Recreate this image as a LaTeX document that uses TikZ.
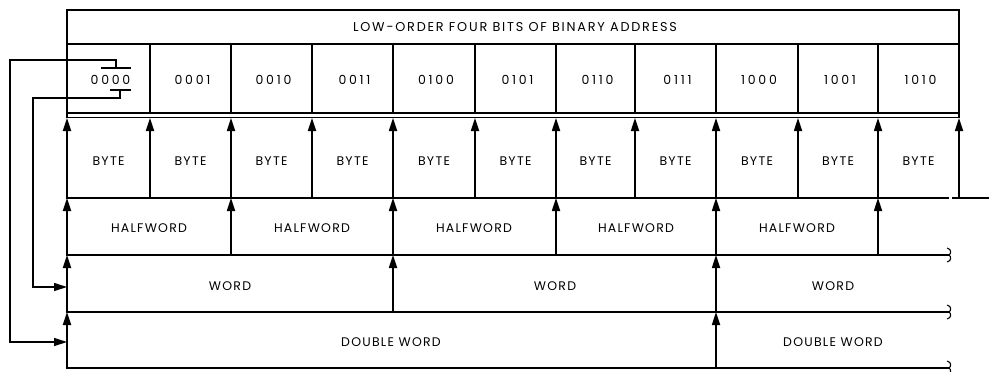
\documentclass[tikz,border=0pt]{standalone}
\usepackage{fontspec}
\setmainfont{Poppins}
\usetikzlibrary{arrows.meta}
\begin{document}
\begin{tikzpicture}[x=1pt,y=-1pt,
  frame/.style={line width=1.7pt,line cap=rect},
  thin/.style={line width=1.3pt},
  arr/.style={line width=1.7pt,-{Triangle[length=13pt,width=8pt]}},
  lbl/.style={font=\fontsize{12.5}{14}\selectfont\addfontfeatures{LetterSpace=10}, inner sep=0pt},
  dig/.style={font=\fontsize{12.5}{14}\selectfont\addfontfeatures{LetterSpace=22}, inner sep=0pt},
  squig/.style={line width=1.1pt}]
\useasboundingbox (0,0) rectangle (989,372);
% title box
\draw[frame] (67,117) -- (67,10) -- (959,10) -- (959,117);
\draw[frame] (67,44) -- (959,44);
\draw[line width=1.4pt] (67,113) -- (959,113);
\draw[line width=1.4pt] (67,117.5) -- (959,117.5);
\node[lbl,font=\fontsize{12.8}{14}\selectfont\addfontfeatures{LetterSpace=14}] (title) at (515,27) {LOW-ORDER FOUR BITS OF BINARY ADDRESS};
% address cells and bytes
\foreach \xa/\xb/\t [count=\i] in {67/150/0000,150/231/0001,231/312/0010,312/393/0011,393/475/0100,475/556/0101,556/635/0110,635/716/0111,716/798/1000,798/878/1001,878/959/1010}{
  \node[dig] (ad\i) at ({(\xa+\xb)/2+2},80) {\t};
  \node[lbl] (by\i) at ({(\xa+\xb)/2},161) {BYTE};
}
\foreach \x [count=\i] in {67,150,231,312,393,475,556,635,716,798,878,959}{
  \draw[frame] (\x,44) -- (\x,113);
  \coordinate (top\i) at (\x,118);
  \coordinate (b\i) at (\x,198);
  \draw[arr] (b\i) -- (top\i);
}
% row lines
\draw[frame] (67,198) -- (948,198);
\draw[frame] (953,198) -- (989,198);
\foreach \y in {255,312,368}{
  \draw[frame] (67,\y) -- (948,\y);
  \draw[squig] (947,\y-7) .. controls (952,\y-6) and (951,\y-1) .. (949,\y) .. controls (951,\y+1) and (952,\y+6) .. (947,\y+7);
}
% halfwords
\foreach \x [count=\i] in {67,231,393,556,716,878}{
  \coordinate (h\i) at (\x,255);
  \coordinate (hb\i) at (\x,198);
  \draw[arr] (h\i) -- (hb\i);
}
\foreach \c [count=\i] in {149,312,474,636,797}{
  \node[lbl] (hw\i) at (\c,228) {HALFWORD};
}
% words
\foreach \x [count=\i] in {67,393,716}{
  \coordinate (w\i) at (\x,312);
  \coordinate (wb\i) at (\x,255);
  \draw[arr] (w\i) -- (wb\i);
}
\foreach \c [count=\i] in {230,555,833}{
  \node[lbl] (wd\i) at (\c,286) {WORD};
}
% double words
\foreach \x [count=\i] in {67,716}{
  \coordinate (d\i) at (\x,368);
  \coordinate (db\i) at (\x,312);
  \draw[arr] (d\i) -- (db\i);
}
\node[lbl] (dw1) at (391,342) {DOUBLE WORD};
\node[lbl] (dw2) at (833,342) {DOUBLE WORD};
% alignment brackets and connectors
\coordinate (ovl) at (101,68);
\coordinate (ovr) at (131,68);
\coordinate (ovt) at (116,68);
\coordinate (unl) at (110,90);
\coordinate (unr) at (131,90);
\coordinate (unt) at (120,90);
\coordinate (dwin) at (67,342);
\coordinate (wdin) at (67,287);
\draw[thin] (ovl) -- (ovr);
\draw[thin] (unl) -- (unr);
\draw[thin,-{Triangle[length=13pt,width=8pt]}] (ovt) -- (116,60) -- (10,60) -- (10,342) -- (dwin);
\draw[thin,-{Triangle[length=13pt,width=8pt]}] (unt) -- (120,98) -- (33,98) -- (33,287) -- (wdin);
\end{tikzpicture}
\end{document}
